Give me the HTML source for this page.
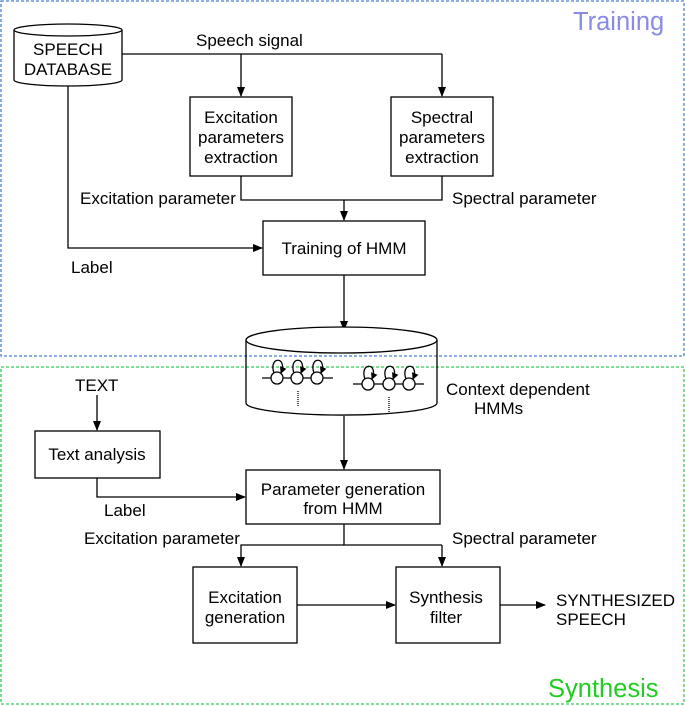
<!DOCTYPE html>
<html><head><style>body{margin:0;background:#fff}svg{display:block;font-family:"Liberation Sans",sans-serif}</style></head><body>
<svg width="685" height="706" viewBox="0 0 685 706">
<defs><marker id="a" markerWidth="10" markerHeight="10" refX="9" refY="5" orient="auto" markerUnits="userSpaceOnUse"><path d="M0,1 L10,5 L0,9 Z" fill="#000"/></marker>
<marker id="s" markerWidth="7" markerHeight="7" refX="6" refY="3.5" orient="auto" markerUnits="userSpaceOnUse"><path d="M0,0 L7,3.5 L0,7 Z" fill="#000"/></marker></defs>
<rect x="1" y="1" width="683" height="355" fill="none" stroke="#4a7fd0" stroke-width="1.3" stroke-dasharray="3,2"/>
<rect x="1" y="367" width="683" height="337" fill="none" stroke="#33cc55" stroke-width="1.3" stroke-dasharray="3,2"/>
<text x="573" y="30" font-size="25.5" fill="#8a8ae8">Training</text>
<text x="548" y="697" font-size="25.5" fill="#22cc22">Synthesis</text>
<g stroke="#000" stroke-width="1.3" fill="none">
<path d="M14,30 V80 A54,6 0 0 0 122,80 V30"/><ellipse cx="68" cy="30" rx="54" ry="6" fill="#fff"/>
<path d="M122,54 H442"/><path d="M241,54 V96" marker-end="url(#a)"/><path d="M442,54 V96" marker-end="url(#a)"/>
<rect x="190" y="97" width="102" height="79"/><rect x="391" y="97" width="102" height="79"/>
<path d="M241,176 V200 H442 V176"/><path d="M344,200 V220" marker-end="url(#a)"/>
<rect x="263" y="221" width="162" height="54"/>
<path d="M68,86 V248 H262" marker-end="url(#a)"/>
<path d="M344,275 V330" marker-end="url(#a)"/>
<path d="M246,340 V403 A95,12 0 0 0 437,403 V340"/><ellipse cx="341.5" cy="340" rx="95.5" ry="13" fill="#fff"/>
<path d="M344,416 V469" marker-end="url(#a)"/>
<rect x="246" y="470" width="194" height="54"/>
<path d="M97,395 V430" marker-end="url(#a)"/>
<rect x="35" y="431" width="125" height="47"/>
<path d="M97,478 V497 H245" marker-end="url(#a)"/>
<path d="M344,524 V545 H442"/><path d="M344,545 H241 V566" marker-end="url(#a)"/><path d="M442,545 V566" marker-end="url(#a)"/>
<rect x="193" y="567" width="104" height="76"/><rect x="396" y="567" width="104" height="76"/>
<path d="M297,605 H395" marker-end="url(#a)"/><path d="M500,605 H545" marker-end="url(#a)"/>
<path d="M262,378 H333"/><path d="M353,384 H424"/>
<path d="M274,373 C268,356 288,356 281,373" marker-end="url(#s)"/><path d="M294,373 C288,356 308,356 301,373" marker-end="url(#s)"/><path d="M314,373 C308,356 328,356 321,373" marker-end="url(#s)"/>
<path d="M365,379 C359,362 379,362 372,379" marker-end="url(#s)"/><path d="M386,379 C380,362 400,362 393,379" marker-end="url(#s)"/><path d="M406,379 C400,362 420,362 413,379" marker-end="url(#s)"/>
<g fill="#fff"><circle cx="277" cy="378" r="6"/><circle cx="297" cy="378" r="6"/><circle cx="317" cy="378" r="6"/><circle cx="368" cy="384" r="6"/><circle cx="389" cy="384" r="6"/><circle cx="409" cy="384" r="6"/></g>
<path d="M298,391 V406" stroke-dasharray="1,1"/><path d="M389,397 V413" stroke-dasharray="1,1"/>
</g>
<g font-size="17" fill="#000" text-anchor="middle">
<text x="68" y="55">SPEECH</text><text x="68" y="75">DATABASE</text>
<text x="241" y="123">Excitation</text><text x="241" y="143">parameters</text><text x="241" y="163">extraction</text>
<text x="442" y="123">Spectral</text><text x="442" y="143">parameters</text><text x="442" y="163">extraction</text>
<text x="344" y="254">Training of HMM</text>
<text x="97" y="460">Text analysis</text>
<text x="343" y="495">Parameter generation</text><text x="343" y="514">from HMM</text>
<text x="245" y="603">Excitation</text><text x="245" y="623">generation</text>
<text x="446" y="603">Synthesis</text><text x="446" y="623">filter</text>
</g>
<g font-size="17" fill="#000">
<text x="196" y="46">Speech signal</text>
<text x="80" y="204">Excitation parameter</text><text x="452" y="204">Spectral parameter</text>
<text x="71" y="273">Label</text>
<text x="446" y="395">Context dependent</text><text x="474" y="414">HMMs</text>
<text x="75" y="391">TEXT</text><text x="104" y="516">Label</text>
<text x="84" y="544">Excitation parameter</text><text x="452" y="544">Spectral parameter</text>
<text x="556" y="606">SYNTHESIZED</text><text x="556" y="625">SPEECH</text>
</g>
</svg>
</body></html>
